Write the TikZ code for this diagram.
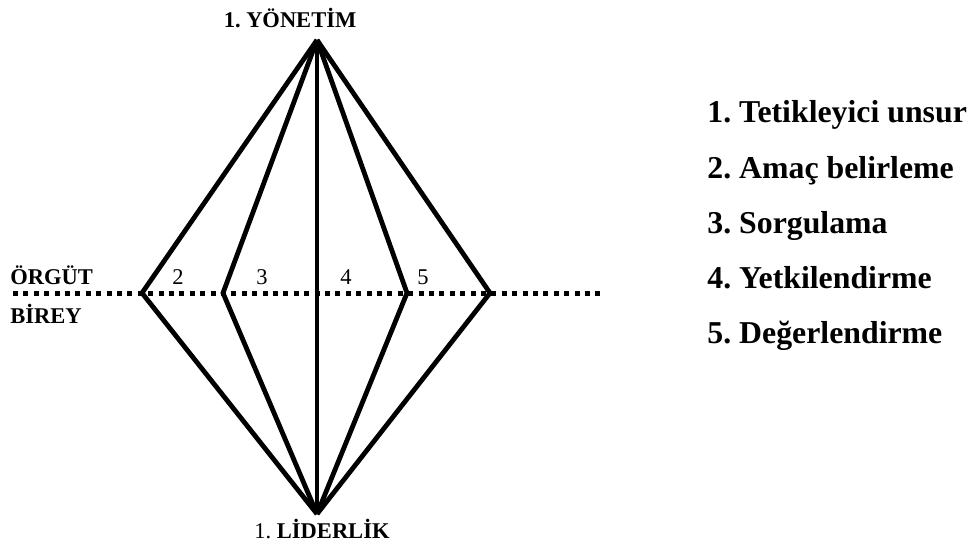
\documentclass[tikz,border=0pt]{standalone}
\usepackage{fontspec}
\setmainfont{Liberation Serif}

\begin{document}
\frenchspacing
\begin{tikzpicture}[x=0.5pt, y=-0.5pt,
  edge/.style={line width=2.4pt},
  border/.style={line width=2.5pt, dash pattern=on 2.5pt off 2.7pt},
  small/.style={inner sep=0pt, font=\fontsize{11.25}{13.5}\selectfont},
  item/.style={anchor=base west, inner sep=0pt, font=\fontsize{15.9}{19}\selectfont\bfseries}]
\useasboundingbox (0,0) rectangle (972,545);
% apexes and the corners on the dotted line
\coordinate (yon) at (317,40);
\coordinate (lid) at (317,514);
\coordinate (c1) at (142,293);
\coordinate (c2) at (223,293);
\coordinate (c4) at (407,293);
\coordinate (c5) at (490,293);
\coordinate (dl) at (13,293);
\coordinate (dr) at (605,293);
\draw[border] (dl) -- (dr);
\draw[edge] (yon) -- (c1) -- (lid);
\draw[edge] (yon) -- (c2) -- (lid);
\draw[edge] (yon) -- (lid);
\draw[edge] (yon) -- (c4) -- (lid);
\draw[edge] (yon) -- (c5) -- (lid);
% labels round the diamond
\node[small, anchor=base] (top) at (290,28) {\bfseries 1. YÖNETİM};
\node[small, anchor=base] (bottom) at (322,538) {1. \textbf{LİDERLİK}};
\node[small, anchor=base west] (org) at (10,284) {\bfseries ÖRGÜT};
\node[small, anchor=base west] (bir) at (10,323) {\bfseries BİREY};
\node[small, anchor=base] (n2) at (178,284) {2};
\node[small, anchor=base] (n3) at (262,284) {3};
\node[small, anchor=base] (n4) at (346,284) {4};
\node[small, anchor=base] (n5) at (423,284) {5};
% list on the right
\node[item] (i1) at (707,123) {1. Tetikleyici unsur};
\node[item] (i2) at (707,178) {2. Amaç belirleme};
\node[item] (i3) at (707,233) {3. Sorgulama};
\node[item] (i4) at (707,288) {4. Yetkilendirme};
\node[item] (i5) at (707,343) {5. Değerlendirme};
\end{tikzpicture}
\end{document}
